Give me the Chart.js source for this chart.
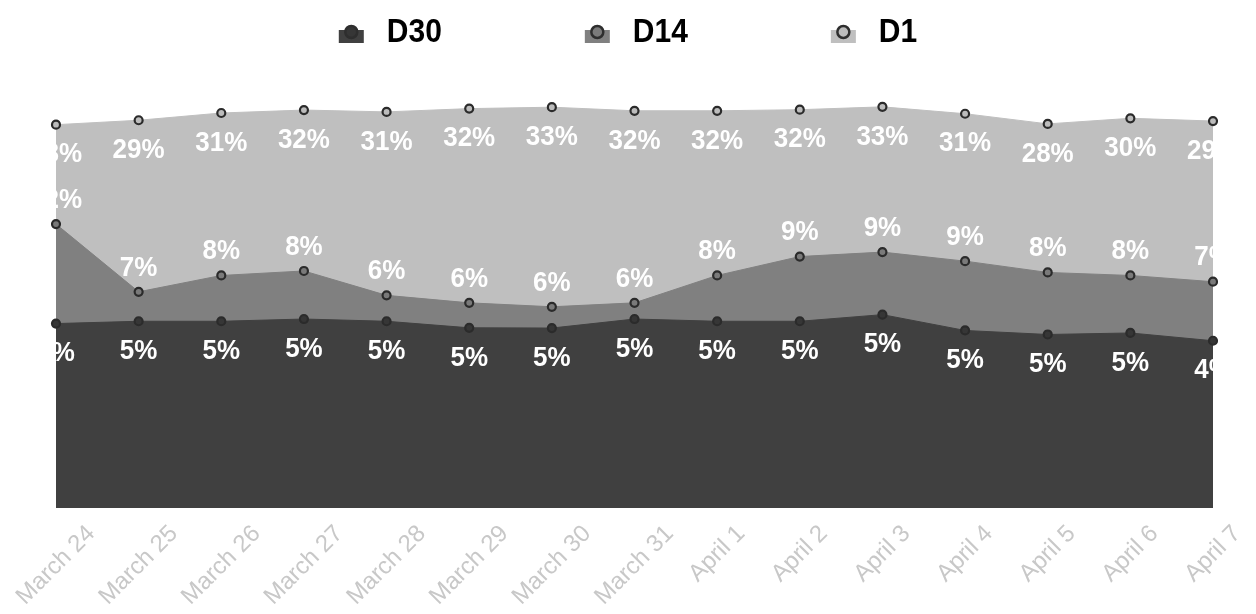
<!DOCTYPE html>
<html>
<head>
<meta charset="utf-8">
<title>Retention</title>
<script src="https://cdn.jsdelivr.net/npm/chart.js@4/dist/chart.umd.min.js"></script>
<style>
  html, body { margin: 0; padding: 0; background: #fff; }
</style>
</head>
<body>
<canvas id="retentionChart" width="1256" height="614"></canvas>
<script>
// dates on the x axis
const days = [
  "March 24", "March 25", "March 26", "March 27", "March 28", "March 29",
  "March 30", "March 31", "April 1", "April 2", "April 3", "April 4",
  "April 5", "April 6", "April 7",
];

// retention in %
const d30 = [4.97, 5.07, 5.07, 5.17, 5.07, 4.79, 4.78, 5.17, 5.07, 5.07, 5.37, 4.68, 4.52, 4.58, 4.28];
const d14 = [11.8, 6.55, 7.55, 7.85, 6.35, 5.95, 5.75, 5.95, 7.55, 8.9, 9.25, 8.55, 7.75, 7.55, 7.15];
const d1 = [28.0, 29.1, 31.0, 31.8, 31.3, 32.2, 32.6, 31.6, 31.6, 31.9, 32.7, 30.8, 28.2, 29.6, 28.9];

const seriesNames = ["D30", "D14", "D1"];
const fillColors = ["#404040", "#808080", "#bfbfbf"];
const dotColors = ["#363636", "#7a7a7a", "#bcbcbc"];
const labelShift = [30, -24, 30]; // value label below / above the dot

const FONT = "'Liberation Sans', Arial, Helvetica, sans-serif";
const STRETCH = 1.08; // text in the original is a touch taller than wide

// legend drawn by hand: box with a dot on it, then the name
const topLegend = {
  id: "topLegend",
  afterDraw(chart) {
    const ctx = chart.ctx;
    const iconW = 25;
    const gap = 23;
    const itemGap = 143;
    ctx.save();
    ctx.font = "bold 30px " + FONT;
    ctx.textBaseline = "middle";
    ctx.textAlign = "left";
    const sets = chart.data.datasets;
    const widths = sets.map((ds) => iconW + gap + ctx.measureText(ds.label).width);
    const total = widths.reduce((a, b) => a + b, 0) + itemGap * (widths.length - 1);
    let x = (chart.width - total) / 2;
    sets.forEach((ds, i) => {
      ctx.fillStyle = ds.backgroundColor;
      ctx.fillRect(x, 30, iconW, 13);
      ctx.beginPath();
      ctx.arc(x + iconW / 2, 32, 6, 0, Math.PI * 2);
      ctx.fillStyle = ds.pointBackgroundColor;
      ctx.fill();
      ctx.lineWidth = 2.5;
      ctx.strokeStyle = "#2e2e2e";
      ctx.stroke();
      ctx.fillStyle = "#000";
      ctx.save();
      ctx.translate(x + iconW + gap, 33);
      ctx.scale(1, STRETCH);
      ctx.fillText(ds.label, 0, 0);
      ctx.restore();
      x += widths[i] + itemGap;
    });
    ctx.restore();
  },
};

// rotated date labels, centred on their tick
const dateLabels = {
  id: "dateLabels",
  afterDraw(chart) {
    const ctx = chart.ctx;
    const xScale = chart.scales.x;
    ctx.save();
    ctx.font = "24px " + FONT;
    ctx.fillStyle = "#c8c8c8";
    ctx.textAlign = "center";
    ctx.textBaseline = "middle";
    chart.data.labels.forEach((lab, i) => {
      const w = ctx.measureText(lab).width;
      const x = xScale.getPixelForTick(i);
      const y = chart.chartArea.bottom + 22 + (w * Math.SQRT1_2) / 2;
      ctx.save();
      ctx.translate(x, y);
      ctx.rotate(-Math.PI / 4);
      ctx.fillText(lab, 0, 0);
      ctx.restore();
    });
    ctx.restore();
  },
};

// white % labels next to every dot
const valueLabels = {
  id: "valueLabels",
  afterDatasetsDraw(chart) {
    const ctx = chart.ctx;
    const area = chart.chartArea;
    ctx.save();
    ctx.beginPath();
    ctx.rect(area.left, area.top, area.right - area.left, area.bottom - area.top);
    ctx.clip();
    ctx.font = "bold 26px " + FONT;
    ctx.fillStyle = "#fff";
    ctx.textAlign = "center";
    ctx.textBaseline = "middle";
    chart.data.datasets.forEach((ds, i) => {
      chart.getDatasetMeta(i).data.forEach((pt, j) => {
        ctx.save();
        ctx.translate(pt.x, pt.y + labelShift[i]);
        ctx.scale(1, STRETCH);
        ctx.fillText(Math.round(ds.data[j]) + "%", 0, 0);
        ctx.restore();
      });
    });
    ctx.restore();
  },
};

const allSeries = [d30, d14, d1];

const ctx = document.getElementById("retentionChart").getContext("2d");
const chart = new Chart(ctx, {
  type: "line",
  data: {
    labels: days,
    datasets: allSeries.map((values, i) => ({
      label: seriesNames[i],
      data: values,
      fill: "start",
      backgroundColor: fillColors[i],
      borderColor: fillColors[i],
      borderWidth: 1,
      tension: 0,
      pointRadius: 4,
      pointBorderWidth: 2.2,
      pointBorderColor: "#2b2b2b",
      pointBackgroundColor: dotColors[i],
    })),
  },
  options: {
    responsive: false,
    animation: false,
    layout: {
      padding: { left: 56, right: 43, top: 58, bottom: 106 },
    },
    scales: {
      x: { display: false },
      y: { display: false, type: "logarithmic", min: 1, max: 50 },
    },
    plugins: {
      legend: { display: false },
      tooltip: { enabled: false },
    },
  },
  plugins: [topLegend, dateLabels, valueLabels],
});
</script>
</body>
</html>
